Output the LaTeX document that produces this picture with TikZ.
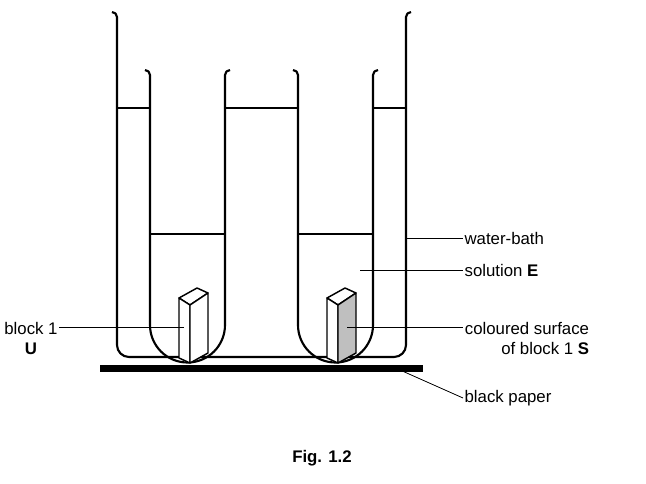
\documentclass[tikz,border=0pt]{standalone}
\usepackage{fontspec}
\setmainfont{Liberation Sans}
\begin{document}
\begin{tikzpicture}[x=0.75pt,y=-0.75pt,line join=round,
  glass/.style={line width=1.6pt},
  lead/.style={line width=0.6pt},
  lbl/.style={font=\fontsize{12.6}{15}\selectfont,inner sep=1pt}]
\useasboundingbox (0,0) rectangle (646,483);
% beaker
\draw[glass] (112,12) arc(-90:0:5) -- (117,345) arc(180:90:12) -- (394,357) arc(90:0:12) -- (406,17) arc(180:270:5);
% tubes
\foreach \tx in {150,298}{
  \draw[glass] (\tx-5,70) arc(-90:0:5) -- (\tx,325) arc(180:0:37.5) -- (\tx+75,75) arc(180:270:5);
  \draw[glass] (\tx,234) -- (\tx+75,234);
}
% water level
\draw[glass] (117,108) -- (150,108) (225,108) -- (298,108) (373,108) -- (406,108);
% black paper
\fill (100,365) rectangle (423,372);
% blocks
\foreach \bx/\fc in {0/white,148/gray!50}{
  \begin{scope}[xshift=\bx*0.75pt]
  \draw[line width=1.1pt,fill=white] (179,298) -- (190,305) -- (208,293) -- (197,288) -- cycle;
  \draw[line width=1.1pt,fill=white] (179,298) -- (190,305) -- (190,363) -- (179,358) -- cycle;
  \draw[line width=1.1pt,fill=\fc] (190,305) -- (208,293) -- (208,353) -- (190,363) -- cycle;
  \end{scope}
}
% labels
\node[lbl,anchor=west] (bath) at (463,238) {water-bath};
\node[lbl,anchor=west] (sol) at (463,270) {solution \textbf{E}};
\node[lbl,align=right] (surf) at (527,338) {coloured surface\\of block 1 \textbf{S}};
\node[lbl,anchor=west] (paper) at (463,398) {black paper};
\node[lbl,align=center] (blk) at (31,338) {block 1\\\textbf{U}};
\node[lbl,font=\fontsize{12.6}{15}\selectfont\bfseries] (fig) at (322,458) {Fig. 1.2};
\coordinate (wb) at (406,238);
\coordinate (se) at (360,270);
\coordinate (cs) at (347,327);
\coordinate (bp) at (400,370);
\coordinate (bu) at (184,327);
\draw[lead] (wb) -- (bath.west);
\draw[lead] (se) -- (sol.west);
\draw[lead] (cs) -- (surf.west |- cs);
\draw[lead] (bp) -- (paper.west);
\draw[lead] (bu) -- (blk.east |- bu);
\end{tikzpicture}
\end{document}
